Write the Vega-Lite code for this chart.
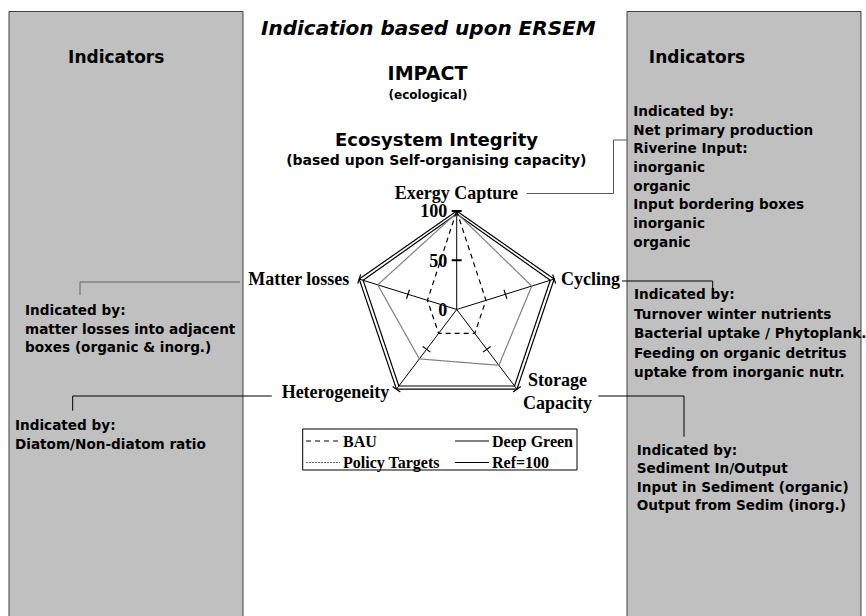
{
  "$schema": "https://vega.github.io/schema/vega-lite/v6.json",
  "width": 866,
  "height": 616,
  "autosize": {"type": "none"},
  "padding": 0,
  "background": "white",
  "config": {"view": {"stroke": null}},
  "datasets": {
    "radar": [
      {"series": "Ref=100", "axis": "Exergy Capture", "i": 0, "v": 100},
      {"series": "Ref=100", "axis": "Cycling", "i": 1, "v": 100},
      {"series": "Ref=100", "axis": "Storage Capacity", "i": 2, "v": 100},
      {"series": "Ref=100", "axis": "Heterogeneity", "i": 3, "v": 100},
      {"series": "Ref=100", "axis": "Matter losses", "i": 4, "v": 100},
      {"series": "Deep Green", "axis": "Exergy Capture", "i": 0, "v": 97},
      {"series": "Deep Green", "axis": "Cycling", "i": 1, "v": 96},
      {"series": "Deep Green", "axis": "Storage Capacity", "i": 2, "v": 96},
      {"series": "Deep Green", "axis": "Heterogeneity", "i": 3, "v": 96},
      {"series": "Deep Green", "axis": "Matter losses", "i": 4, "v": 96},
      {"series": "Policy Targets", "axis": "Exergy Capture", "i": 0, "v": 98},
      {"series": "Policy Targets", "axis": "Cycling", "i": 1, "v": 77},
      {"series": "Policy Targets", "axis": "Storage Capacity", "i": 2, "v": 70},
      {"series": "Policy Targets", "axis": "Heterogeneity", "i": 3, "v": 62},
      {"series": "Policy Targets", "axis": "Matter losses", "i": 4, "v": 81},
      {"series": "BAU", "axis": "Exergy Capture", "i": 0, "v": 100},
      {"series": "BAU", "axis": "Cycling", "i": 1, "v": 30},
      {"series": "BAU", "axis": "Storage Capacity", "i": 2, "v": 30},
      {"series": "BAU", "axis": "Heterogeneity", "i": 3, "v": 30},
      {"series": "BAU", "axis": "Matter losses", "i": 4, "v": 30}
    ],
    "spokes": [
      {"i": 0, "axis": "Exergy Capture", "label": "Exergy Capture"},
      {"i": 1, "axis": "Cycling", "label": "Cycling"},
      {"i": 2, "axis": "Storage Capacity", "label": "Storage\nCapacity"},
      {"i": 3, "axis": "Heterogeneity", "label": "Heterogeneity"},
      {"i": 4, "axis": "Matter losses", "label": "Matter losses"}
    ],
    "ticks": [
      {"i": 0, "v": 50}, {"i": 0, "v": 100},
      {"i": 1, "v": 50}, {"i": 1, "v": 100},
      {"i": 2, "v": 50}, {"i": 2, "v": 100},
      {"i": 3, "v": 50}, {"i": 3, "v": 100},
      {"i": 4, "v": 50}, {"i": 4, "v": 100}
    ],
    "rlabels": [
      {"v": 0, "label": "0"},
      {"v": 50, "label": "50"},
      {"v": 100, "label": "100"}
    ],
    "one": [{"k": 1}]
  },
  "layer": [
    {
      "data": {"name": "one"},
      "mark": {"type": "rect", "fill": "#c0c0c0", "stroke": "#404040", "strokeWidth": 1, "clip": true},
      "encoding": {
        "x": {"datum": -436.78, "type": "quantitative", "scale": {"domain": [-445.56, 399.32], "nice": false, "zero": false}, "axis": null},
        "x2": {"datum": -208.49},
        "y": {"datum": 302.54, "type": "quantitative", "scale": {"domain": [-311.17, 314.21], "nice": false, "zero": false}, "axis": null},
        "y2": {"datum": -330}
      }
    },
    {
      "data": {"name": "one"},
      "mark": {"type": "rect", "fill": "#c0c0c0", "stroke": "#404040", "strokeWidth": 1, "clip": true},
      "encoding": {
        "x": {"datum": 166.15, "type": "quantitative", "axis": null},
        "x2": {"datum": 394.44},
        "y": {"datum": 302.54, "type": "quantitative", "axis": null},
        "y2": {"datum": -330}
      }
    },
    {
      "data": {"name": "one"},
      "mark": {"type": "rect", "fill": "#ffffff", "stroke": "#000000", "strokeWidth": 1},
      "encoding": {
        "x": {"datum": -150.24, "type": "quantitative", "axis": null},
        "x2": {"datum": 117.37},
        "y": {"datum": -121.32, "type": "quantitative", "axis": null},
        "y2": {"datum": -162.94}
      }
    },
    {
      "data": {"name": "one"},
      "mark": {"type": "rule", "color": "#000000", "strokeWidth": 1.2, "strokeDash": [5, 4]},
      "encoding": {"x": {"datum": -146.98, "type": "quantitative", "axis": null}, "x2": {"datum": -113.85}, "y": {"datum": -133.5, "type": "quantitative", "axis": null}, "y2": {"datum": -133.5}}
    },
    {
      "data": {"name": "one"},
      "mark": {"type": "rule", "color": "#000000", "strokeWidth": 1.2},
      "encoding": {"x": {"datum": -1.66, "type": "quantitative", "axis": null}, "x2": {"datum": 31.51}, "y": {"datum": -133.5, "type": "quantitative", "axis": null}, "y2": {"datum": -133.5}}
    },
    {
      "data": {"name": "one"},
      "mark": {"type": "rule", "color": "#606060", "strokeWidth": 1.2, "strokeDash": [2, 1]},
      "encoding": {"x": {"datum": -146.98, "type": "quantitative", "axis": null}, "x2": {"datum": -113.85}, "y": {"datum": -155.33, "type": "quantitative", "axis": null}, "y2": {"datum": -155.33}}
    },
    {
      "data": {"name": "one"},
      "mark": {"type": "rule", "color": "#000000", "strokeWidth": 1.2},
      "encoding": {"x": {"datum": -1.66, "type": "quantitative", "axis": null}, "x2": {"datum": 31.51}, "y": {"datum": -155.33, "type": "quantitative", "axis": null}, "y2": {"datum": -155.33}}
    },
    {
      "data": {"name": "one"},
      "mark": {"type": "text", "text": "BAU", "font": "Liberation Serif", "fontWeight": "bold", "fontSize": 16, "align": "left", "baseline": "alphabetic", "color": "#000"},
      "encoding": {"x": {"datum": -110.93, "type": "quantitative", "axis": null}, "y": {"datum": -139.09, "type": "quantitative", "axis": null}}
    },
    {
      "data": {"name": "one"},
      "mark": {"type": "text", "text": "Deep Green", "font": "Liberation Serif", "fontWeight": "bold", "fontSize": 16, "align": "left", "baseline": "alphabetic", "color": "#000"},
      "encoding": {"x": {"datum": 34.44, "type": "quantitative", "axis": null}, "y": {"datum": -139.09, "type": "quantitative", "axis": null}}
    },
    {
      "data": {"name": "one"},
      "mark": {"type": "text", "text": "Policy Targets", "font": "Liberation Serif", "fontWeight": "bold", "fontSize": 16, "align": "left", "baseline": "alphabetic", "color": "#000"},
      "encoding": {"x": {"datum": -110.93, "type": "quantitative", "axis": null}, "y": {"datum": -160.91, "type": "quantitative", "axis": null}}
    },
    {
      "data": {"name": "one"},
      "mark": {"type": "text", "text": "Ref=100", "font": "Liberation Serif", "fontWeight": "bold", "fontSize": 16, "align": "left", "baseline": "alphabetic", "color": "#000"},
      "encoding": {"x": {"datum": 34.44, "type": "quantitative", "axis": null}, "y": {"datum": -160.91, "type": "quantitative", "axis": null}}
    },
    {
      "data": {"name": "one"},
      "mark": {"type": "text", "text": "Indication based upon ERSEM", "font": "DejaVu Sans", "fontWeight": "bold", "fontStyle": "italic", "fontSize": 20, "align": "center", "baseline": "alphabetic", "color": "#000"},
      "encoding": {"x": {"datum": -27.71, "type": "quantitative", "axis": null}, "y": {"datum": 278.17, "type": "quantitative", "axis": null}}
    },
    {
      "data": {"name": "one"},
      "mark": {"type": "text", "text": "IMPACT", "font": "DejaVu Sans", "fontWeight": "bold", "fontSize": 19, "align": "center", "baseline": "alphabetic", "color": "#000"},
      "encoding": {"x": {"datum": -28.49, "type": "quantitative", "axis": null}, "y": {"datum": 233.0, "type": "quantitative", "axis": null}}
    },
    {
      "data": {"name": "one"},
      "mark": {"type": "text", "text": "(ecological)", "font": "DejaVu Sans", "fontWeight": "bold", "fontSize": 12, "align": "center", "baseline": "alphabetic", "color": "#000"},
      "encoding": {"x": {"datum": -28.0, "type": "quantitative", "axis": null}, "y": {"datum": 214.21, "type": "quantitative", "axis": null}}
    },
    {
      "data": {"name": "one"},
      "mark": {"type": "text", "text": "Ecosystem Integrity", "font": "DejaVu Sans", "fontWeight": "bold", "fontSize": 18, "align": "center", "baseline": "alphabetic", "color": "#000"},
      "encoding": {"x": {"datum": -19.71, "type": "quantitative", "axis": null}, "y": {"datum": 165.48, "type": "quantitative", "axis": null}}
    },
    {
      "data": {"name": "one"},
      "mark": {"type": "text", "text": "(based upon Self-organising capacity)", "font": "DejaVu Sans", "fontWeight": "bold", "fontSize": 14, "align": "center", "baseline": "alphabetic", "color": "#000"},
      "encoding": {"x": {"datum": -19.9, "type": "quantitative", "axis": null}, "y": {"datum": 146.7, "type": "quantitative", "axis": null}}
    },
    {
      "data": {"name": "one"},
      "mark": {"type": "text", "text": "Indicators", "font": "DejaVu Sans", "fontWeight": "bold", "fontSize": 17, "align": "center", "baseline": "alphabetic", "color": "#000"},
      "encoding": {"x": {"datum": -332.2, "type": "quantitative", "axis": null}, "y": {"datum": 249.95, "type": "quantitative", "axis": null}}
    },
    {
      "data": {"name": "one"},
      "mark": {"type": "text", "text": "Indicators", "font": "DejaVu Sans", "fontWeight": "bold", "fontSize": 17, "align": "center", "baseline": "alphabetic", "color": "#000"},
      "encoding": {"x": {"datum": 234.44, "type": "quantitative", "axis": null}, "y": {"datum": 249.95, "type": "quantitative", "axis": null}}
    },
    {
      "data": {"name": "one"},
      "mark": {"type": "text", "text": ["Indicated by:", "Net primary production", "Riverine Input:", "inorganic", "organic", "Input bordering boxes", "inorganic", "organic"], "font": "DejaVu Sans", "fontWeight": "bold", "fontSize": 13.6, "lineHeight": 18.7, "align": "left", "baseline": "alphabetic", "color": "#000"},
      "encoding": {"x": {"datum": 172.29, "type": "quantitative", "axis": null}, "y": {"datum": 196.45, "type": "quantitative", "axis": null}}
    },
    {
      "data": {"name": "one"},
      "mark": {"type": "text", "text": ["Indicated by:", "Turnover winter nutrients", "Bacterial uptake / Phytoplank.", "Feeding on organic detritus", "uptake from inorganic nutr."], "font": "DejaVu Sans", "fontWeight": "bold", "fontSize": 13.6, "lineHeight": 19.5, "align": "left", "baseline": "alphabetic", "color": "#000"},
      "encoding": {"x": {"datum": 172.98, "type": "quantitative", "axis": null}, "y": {"datum": 10.15, "type": "quantitative", "axis": null}}
    },
    {
      "data": {"name": "one"},
      "mark": {"type": "text", "text": ["Indicated by:", "Sediment In/Output", "Input in Sediment (organic)", "Output from Sedim (inorg.)"], "font": "DejaVu Sans", "fontWeight": "bold", "fontSize": 13.6, "lineHeight": 18.3, "align": "left", "baseline": "alphabetic", "color": "#000"},
      "encoding": {"x": {"datum": 175.61, "type": "quantitative", "axis": null}, "y": {"datum": -147.72, "type": "quantitative", "axis": null}}
    },
    {
      "data": {"name": "one"},
      "mark": {"type": "text", "text": ["Indicated by:", "matter losses into adjacent", "boxes (organic & inorg.)"], "font": "DejaVu Sans", "fontWeight": "bold", "fontSize": 13.6, "lineHeight": 18.7, "align": "left", "baseline": "alphabetic", "color": "#000"},
      "encoding": {"x": {"datum": -421.17, "type": "quantitative", "axis": null}, "y": {"datum": -5.58, "type": "quantitative", "axis": null}}
    },
    {
      "data": {"name": "one"},
      "mark": {"type": "text", "text": ["Indicated by:", "Diatom/Non-diatom ratio"], "font": "DejaVu Sans", "fontWeight": "bold", "fontSize": 13.6, "lineHeight": 18.5, "align": "left", "baseline": "alphabetic", "color": "#000"},
      "encoding": {"x": {"datum": -430.93, "type": "quantitative", "axis": null}, "y": {"datum": -122.84, "type": "quantitative", "axis": null}}
    },
    {
      "data": {"name": "one"},
      "mark": {"type": "rule", "color": "#555555", "strokeWidth": 1},
      "encoding": {"x": {"datum": 68.29, "type": "quantitative", "axis": null}, "x2": {"datum": 152.98}, "y": {"datum": 117.77, "type": "quantitative", "axis": null}, "y2": {"datum": 117.77}}
    },
    {
      "data": {"name": "one"},
      "mark": {"type": "rule", "color": "#555555", "strokeWidth": 1},
      "encoding": {"x": {"datum": 152.98, "type": "quantitative", "axis": null}, "x2": {"datum": 152.98}, "y": {"datum": 117.77, "type": "quantitative", "axis": null}, "y2": {"datum": 172.08}}
    },
    {
      "data": {"name": "one"},
      "mark": {"type": "rule", "color": "#555555", "strokeWidth": 1},
      "encoding": {"x": {"datum": 152.98, "type": "quantitative", "axis": null}, "x2": {"datum": 166.15}, "y": {"datum": 172.08, "type": "quantitative", "axis": null}, "y2": {"datum": 172.08}}
    },
    {
      "data": {"name": "one"},
      "mark": {"type": "rule", "color": "#000000", "strokeWidth": 1},
      "encoding": {"x": {"datum": 161.27, "type": "quantitative", "axis": null}, "x2": {"datum": 249.76}, "y": {"datum": 28.93, "type": "quantitative", "axis": null}, "y2": {"datum": 28.93}}
    },
    {
      "data": {"name": "one"},
      "mark": {"type": "rule", "color": "#000000", "strokeWidth": 1},
      "encoding": {"x": {"datum": 249.76, "type": "quantitative", "axis": null}, "x2": {"datum": 249.76}, "y": {"datum": 28.93, "type": "quantitative", "axis": null}, "y2": {"datum": 16.75}}
    },
    {
      "data": {"name": "one"},
      "mark": {"type": "rule", "color": "#000000", "strokeWidth": 1},
      "encoding": {"x": {"datum": 138.15, "type": "quantitative", "axis": null}, "x2": {"datum": 221.76}, "y": {"datum": -87.82, "type": "quantitative", "axis": null}, "y2": {"datum": -87.82}}
    },
    {
      "data": {"name": "one"},
      "mark": {"type": "rule", "color": "#000000", "strokeWidth": 1},
      "encoding": {"x": {"datum": 221.76, "type": "quantitative", "axis": null}, "x2": {"datum": 221.76}, "y": {"datum": -87.82, "type": "quantitative", "axis": null}, "y2": {"datum": -129.14}}
    },
    {
      "data": {"name": "one"},
      "mark": {"type": "rule", "color": "#666666", "strokeWidth": 1},
      "encoding": {"x": {"datum": -367.51, "type": "quantitative", "axis": null}, "x2": {"datum": -211.41}, "y": {"datum": 27.92, "type": "quantitative", "axis": null}, "y2": {"datum": 27.92}}
    },
    {
      "data": {"name": "one"},
      "mark": {"type": "rule", "color": "#666666", "strokeWidth": 1},
      "encoding": {"x": {"datum": -367.51, "type": "quantitative", "axis": null}, "x2": {"datum": -367.51}, "y": {"datum": 27.92, "type": "quantitative", "axis": null}, "y2": {"datum": 14.72}}
    },
    {
      "data": {"name": "one"},
      "mark": {"type": "rule", "color": "#000000", "strokeWidth": 1},
      "encoding": {"x": {"datum": -374.63, "type": "quantitative", "axis": null}, "x2": {"datum": -180.49}, "y": {"datum": -87.82, "type": "quantitative", "axis": null}, "y2": {"datum": -87.82}}
    },
    {
      "data": {"name": "one"},
      "mark": {"type": "rule", "color": "#000000", "strokeWidth": 1},
      "encoding": {"x": {"datum": -374.63, "type": "quantitative", "axis": null}, "x2": {"datum": -374.63}, "y": {"datum": -87.82, "type": "quantitative", "axis": null}, "y2": {"datum": -102.74}}
    },
    {
      "data": {"name": "one"},
      "mark": {"type": "rule", "color": "#000000", "strokeWidth": 1},
      "encoding": {"x": {"datum": 0.01, "type": "quantitative", "axis": null}, "x2": {"datum": 0.01}, "y": {"datum": 0.01, "type": "quantitative", "axis": null}, "y2": {"datum": 100}}
    },
    {
      "data": {"name": "one"},
      "mark": {"type": "rule", "color": "#000000", "strokeWidth": 1},
      "encoding": {"x": {"datum": 0.01, "type": "quantitative", "axis": null}, "x2": {"datum": 95.11}, "y": {"datum": 0.01, "type": "quantitative", "axis": null}, "y2": {"datum": 30.9}}
    },
    {
      "data": {"name": "one"},
      "mark": {"type": "rule", "color": "#000000", "strokeWidth": 1},
      "encoding": {"x": {"datum": 0.01, "type": "quantitative", "axis": null}, "x2": {"datum": 58.78}, "y": {"datum": 0.01, "type": "quantitative", "axis": null}, "y2": {"datum": -80.9}}
    },
    {
      "data": {"name": "one"},
      "mark": {"type": "rule", "color": "#000000", "strokeWidth": 1},
      "encoding": {"x": {"datum": 0.01, "type": "quantitative", "axis": null}, "x2": {"datum": -58.78}, "y": {"datum": 0.01, "type": "quantitative", "axis": null}, "y2": {"datum": -80.9}}
    },
    {
      "data": {"name": "one"},
      "mark": {"type": "rule", "color": "#000000", "strokeWidth": 1},
      "encoding": {"x": {"datum": 0.01, "type": "quantitative", "axis": null}, "x2": {"datum": -95.11}, "y": {"datum": 0.01, "type": "quantitative", "axis": null}, "y2": {"datum": 30.9}}
    },
    {
      "data": {"name": "ticks"},
      "transform": [
        {"filter": "datum.i > 0"},
        {"calculate": "datum.v*sin(datum.i*2*PI/5)", "as": "x"},
        {"calculate": "datum.v*cos(datum.i*2*PI/5)", "as": "y"},
        {"calculate": "datum.i*72", "as": "deg"}
      ],
      "mark": {"type": "point", "shape": "stroke", "size": 90, "strokeWidth": 1.2, "color": "#000000", "filled": false, "opacity": 1},
      "encoding": {
        "x": {"field": "x", "type": "quantitative", "axis": null},
        "y": {"field": "y", "type": "quantitative", "axis": null},
        "angle": {"field": "deg", "type": "quantitative", "scale": {"domain": [0, 360], "range": [0, 360]}}
      }
    },
    {
      "data": {"name": "ticks"},
      "transform": [{"filter": "datum.i == 0"}, {"calculate": "0", "as": "x"}],
      "mark": {"type": "point", "shape": "stroke", "size": 100, "strokeWidth": 2, "color": "#000000", "filled": false, "opacity": 1},
      "encoding": {
        "x": {"field": "x", "type": "quantitative", "axis": null},
        "y": {"field": "v", "type": "quantitative", "axis": null}
      }
    },
    {
      "data": {"name": "rlabels"},
      "transform": [{"calculate": "0", "as": "x"}],
      "mark": {"type": "text", "font": "Liberation Serif", "fontWeight": "bold", "fontSize": 18, "align": "right", "baseline": "alphabetic", "dx": -9.5, "dy": 6.5, "color": "#000"},
      "encoding": {
        "x": {"field": "x", "type": "quantitative", "axis": null},
        "y": {"field": "v", "type": "quantitative", "axis": null},
        "text": {"field": "label", "type": "nominal"}
      }
    },
    {
      "data": {"name": "radar"},
      "transform": [
        {"calculate": "datum.v*sin(datum.i*2*PI/5)", "as": "x"},
        {"calculate": "datum.v*cos(datum.i*2*PI/5)", "as": "y"}
      ],
      "mark": {"type": "line", "interpolate": "linear-closed", "strokeWidth": 1.2},
      "encoding": {
        "x": {"field": "x", "type": "quantitative", "axis": null},
        "y": {"field": "y", "type": "quantitative", "axis": null},
        "order": {"field": "i", "type": "quantitative"},
        "color": {
          "field": "series", "type": "nominal",
          "scale": {"domain": ["BAU", "Deep Green", "Policy Targets", "Ref=100"], "range": ["#000000", "#000000", "#808080", "#000000"]},
          "legend": null
        },
        "strokeDash": {
          "field": "series", "type": "nominal",
          "scale": {"domain": ["BAU", "Deep Green", "Policy Targets", "Ref=100"], "range": [[5, 4], [1, 0], [1, 0], [1, 0]]},
          "legend": null
        }
      }
    },
    {
      "data": {"name": "spokes"},
      "transform": [
        {"filter": "datum.i == 0"},
        {"calculate": "100*sin(datum.i*2*PI/5)", "as": "x"},
        {"calculate": "100*cos(datum.i*2*PI/5)", "as": "y"}
      ],
      "mark": {"type": "text", "font": "Liberation Serif", "fontWeight": "bold", "fontSize": 18, "align": "center", "baseline": "alphabetic", "dx": -0.4, "dy": -12, "color": "#000"},
      "encoding": {"x": {"field": "x", "type": "quantitative", "axis": null}, "y": {"field": "y", "type": "quantitative", "axis": null}, "text": {"field": "label", "type": "nominal"}}
    },
    {
      "data": {"name": "spokes"},
      "transform": [
        {"filter": "datum.i == 1"},
        {"calculate": "100*sin(datum.i*2*PI/5)", "as": "x"},
        {"calculate": "100*cos(datum.i*2*PI/5)", "as": "y"}
      ],
      "mark": {"type": "text", "font": "Liberation Serif", "fontWeight": "bold", "fontSize": 18, "align": "left", "baseline": "alphabetic", "dx": 6.8, "dy": 6.4, "color": "#000"},
      "encoding": {"x": {"field": "x", "type": "quantitative", "axis": null}, "y": {"field": "y", "type": "quantitative", "axis": null}, "text": {"field": "label", "type": "nominal"}}
    },
    {
      "data": {"name": "spokes"},
      "transform": [
        {"filter": "datum.i == 2"},
        {"calculate": "100*sin(datum.i*2*PI/5)", "as": "x"},
        {"calculate": "100*cos(datum.i*2*PI/5)", "as": "y"}
      ],
      "mark": {"type": "text", "font": "Liberation Serif", "fontWeight": "bold", "fontSize": 18, "align": "center", "baseline": "alphabetic", "lineBreak": "\n", "lineHeight": 23, "dx": 40.6, "dy": -2.7, "color": "#000"},
      "encoding": {"x": {"field": "x", "type": "quantitative", "axis": null}, "y": {"field": "y", "type": "quantitative", "axis": null}, "text": {"field": "label", "type": "nominal"}}
    },
    {
      "data": {"name": "spokes"},
      "transform": [
        {"filter": "datum.i == 3"},
        {"calculate": "100*sin(datum.i*2*PI/5)", "as": "x"},
        {"calculate": "100*cos(datum.i*2*PI/5)", "as": "y"}
      ],
      "mark": {"type": "text", "font": "Liberation Serif", "fontWeight": "bold", "fontSize": 18, "align": "right", "baseline": "alphabetic", "dx": -7.2, "dy": 8.8, "color": "#000"},
      "encoding": {"x": {"field": "x", "type": "quantitative", "axis": null}, "y": {"field": "y", "type": "quantitative", "axis": null}, "text": {"field": "label", "type": "nominal"}}
    },
    {
      "data": {"name": "spokes"},
      "transform": [
        {"filter": "datum.i == 4"},
        {"calculate": "100*sin(datum.i*2*PI/5)", "as": "x"},
        {"calculate": "100*cos(datum.i*2*PI/5)", "as": "y"}
      ],
      "mark": {"type": "text", "font": "Liberation Serif", "fontWeight": "bold", "fontSize": 18, "align": "right", "baseline": "alphabetic", "dx": -9.9, "dy": 6.4, "color": "#000"},
      "encoding": {"x": {"field": "x", "type": "quantitative", "axis": null}, "y": {"field": "y", "type": "quantitative", "axis": null}, "text": {"field": "label", "type": "nominal"}}
    }
  ]
}
